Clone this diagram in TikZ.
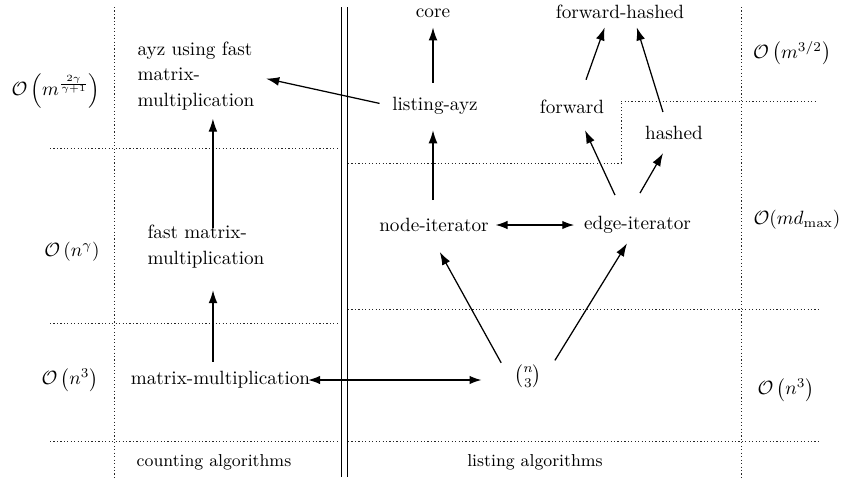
\documentclass[tikz,border=0pt]{standalone}
\usepackage{amsmath}
\usetikzlibrary{arrows.meta,calc}
\begin{document}
\begin{tikzpicture}[x=0.521pt,y=-0.521pt,
  txt/.style={inner sep=0pt, outer sep=0pt},
  mtext/.style={inner sep=0pt, outer sep=0pt, align=left},
  arr/.style={-{Latex[length=6.8pt,width=4.6pt]}, line width=0.65pt},
  darr/.style={{Latex[length=6.2pt,width=4.4pt]}-{Latex[length=6.2pt,width=4.4pt]}, line width=0.65pt},
  dotline/.style={dash pattern=on 0.6pt off 1.2pt, line width=0.5pt, black!85},
  sepline/.style={line width=0.5pt}]
\useasboundingbox (0,0) rectangle (842,477);

% grid lines
\draw[dotline] (114,7) -- (114,477);
\draw[dotline] (741,7) -- (741,477);
\draw[dotline] (50,148) -- (338,148);
\draw[dotline] (50,323) -- (338,323);
\draw[dotline] (50,441) -- (338,441);
\draw[dotline] (348,163) -- (621,163) -- (621,101) -- (818,101);
\draw[dotline] (348,309) -- (818,309);
\draw[dotline] (348,441) -- (818,441);
\draw[sepline] (341,7) -- (341,477);
\draw[sepline] (347,7) -- (347,477);

% complexity labels
\node[txt] (om2g) at (56,91) {$\mathcal{O}\left(m^{\frac{2\gamma}{\gamma+1}}\right)$};
\node[txt] (ong) at (72,252) {$\mathcal{O}\left(n^{\gamma}\right)$};
\node[txt] (on3l) at (70,380) {$\mathcal{O}\left(n^{3}\right)$};
\node[txt] (om32) at (792,53) {$\mathcal{O}\left(m^{3/2}\right)$};
\node[txt] (omd) at (797,220) {$\mathcal{O}(m d_{\max})$};
\node[txt] (on3r) at (786,390) {$\mathcal{O}\left(n^{3}\right)$};

% column labels
\node[txt] (cnt) at (214,462) {\small counting algorithms};
\node[txt] (lst) at (535,462) {\small listing algorithms};

% algorithm nodes
\node[mtext] (ayz) at (196,76) {ayz using fast\\[1.5pt] matrix-\\[1.5pt] multiplication};
\node[mtext] (fastmm) at (206,246.5) {fast matrix-\\[1.5pt] multiplication};
\node[txt] (mm) at (220.5,380) {matrix-multiplication};
\node[txt] (binom) at (528,376) {$\binom{n}{3}$};
\node[txt] (core) at (433,13) {core};
\node[txt] (listayz) at (435,106.2) {listing-ayz};
\node[txt] (nodeit) at (434,225) {node-iterator};
\node[txt] (edgeit) at (637.5,224.6) {edge-iterator};
\node[txt] (fh) at (620,11.5) {forward-hashed};
\node[txt] (forward) at (572,106.5) {forward};
\node[txt] (hashed) at (674,133.4) {hashed};

% connectors
\draw[arr, shorten <=7.7pt, shorten >=5.2pt] (listayz.north -| core) -- (core.south);
\draw[arr, shorten <=9.4pt, shorten >=8pt] (nodeit.north -| core) -- (listayz.south -| core);
\draw[arr, shorten <=6.8pt, shorten >=6.3pt] (listayz.west) -- (ayz.east);
\draw[arr, shorten <=-1.5pt, shorten >=4.2pt] ([xshift=3.6pt]fastmm.north) -- ([xshift=3.6pt]fastmm.north |- ayz.south);
\draw[arr, shorten <=5pt, shorten >=11.5pt] ([xshift=-3.9pt]mm.north) -- ([xshift=-3.9pt]mm.north |- fastmm.south);
\draw[arr, shorten <=11pt, shorten >=5pt] ([xshift=3.6pt]forward.north) -- ([xshift=-6.3pt]fh.south);
\draw[arr, shorten <=8pt, shorten >=4.9pt] ([xshift=-3.4pt]hashed.north) -- ([xshift=7.3pt]fh.south);
\draw[arr, shorten <=12pt, shorten >=9.7pt] ([xshift=-6.7pt]edgeit.north) -- ([xshift=2.7pt]forward.south);
\draw[arr, shorten <=13.8pt, shorten >=7.8pt] ([xshift=-5.6pt]edgeit.north) -- ([xshift=-1.8pt]hashed.south);
\draw[darr, shorten <=3.6pt, shorten >=5.2pt] (nodeit.east) -- (nodeit.east -| edgeit.west);
\draw[arr, shorten <=1pt, shorten >=12pt] ([xshift=-13.5pt]binom.north) -- ([xshift=-2.8pt]nodeit.south);
\draw[arr, shorten <=2.5pt, shorten >=6.2pt] ([xshift=12.7pt]binom.north) -- ([xshift=-2.2pt]edgeit.south);
\draw[darr, shorten <=-1pt, shorten >=17.2pt] (mm.east) -- (mm.east -| binom.west);
\end{tikzpicture}
\end{document}
